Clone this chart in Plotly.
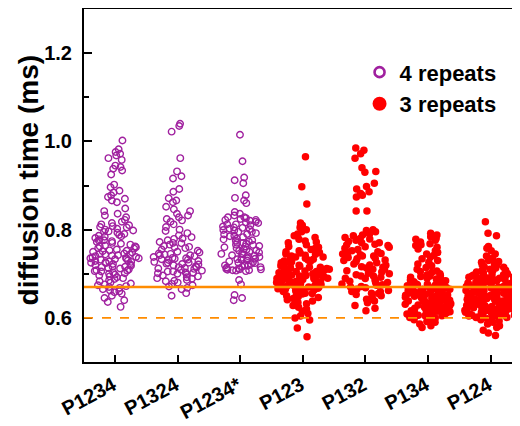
import plotly.graph_objects as go

categories = ["P1234", "P1324", "P1234*", "P123", "P132", "P134", "P124"]
four_repeat_cats = ["P1234", "P1324", "P1234*"]
three_repeat_cats = ["P123", "P132", "P134", "P124"]
y_title = "diffusion time (ms)"

p1234 = [1.002, 0.982, 0.976, 0.972, 0.968, 0.962, 0.958, 0.945, 0.942, 0.938, 0.934, 0.925,
         0.902, 0.896, 0.888, 0.884, 0.878, 0.874, 0.870, 0.866, 0.862, 0.848, 0.842, 0.836,
         0.832, 0.828, 0.822, 0.818, 0.815, 0.812, 0.808, 0.805, 0.802, 0.800, 0.798, 0.796,
         0.793, 0.790, 0.788, 0.786, 0.784, 0.781, 0.778, 0.776, 0.774, 0.772, 0.770, 0.768,
         0.766, 0.764, 0.762, 0.760, 0.758, 0.757, 0.755, 0.753, 0.751, 0.750, 0.748, 0.746,
         0.745, 0.744, 0.742, 0.741, 0.740, 0.738, 0.737, 0.736, 0.735, 0.734, 0.733, 0.732,
         0.730, 0.729, 0.728, 0.727, 0.725, 0.724, 0.722, 0.721, 0.720, 0.718, 0.716, 0.715,
         0.713, 0.712, 0.710, 0.708, 0.706, 0.705, 0.703, 0.701, 0.700, 0.698, 0.696, 0.694,
         0.692, 0.690, 0.688, 0.685, 0.683, 0.680, 0.678, 0.676, 0.674, 0.672, 0.670, 0.668,
         0.665, 0.662, 0.660, 0.658, 0.655, 0.650, 0.645, 0.640, 0.636, 0.625,
         0.775, 0.762, 0.752, 0.744, 0.735, 0.726, 0.716, 0.707, 0.785, 0.795, 0.806, 0.810]

p1324 = [1.040, 1.035, 1.022, 0.962, 0.932, 0.921, 0.916, 0.892, 0.886, 0.871, 0.866, 0.862,
         0.852, 0.846, 0.842, 0.836, 0.832, 0.828, 0.824, 0.821, 0.818, 0.812, 0.806, 0.800,
         0.797, 0.792, 0.787, 0.783, 0.779, 0.776, 0.772, 0.769, 0.766, 0.763, 0.760, 0.758,
         0.755, 0.752, 0.750, 0.748, 0.746, 0.744, 0.742, 0.740, 0.738, 0.736, 0.734, 0.733,
         0.731, 0.729, 0.727, 0.725, 0.723, 0.721, 0.719, 0.717, 0.715, 0.713, 0.711, 0.709,
         0.707, 0.705, 0.703, 0.701, 0.700, 0.698, 0.696, 0.694, 0.692, 0.689, 0.686, 0.683,
         0.680, 0.677, 0.674, 0.671, 0.668, 0.665, 0.656, 0.650, 0.745, 0.735, 0.725, 0.715,
         0.705, 0.770, 0.780, 0.722, 0.712, 0.702, 0.742, 0.732, 0.761, 0.690, 0.684]

p1234s = [1.015, 0.955, 0.918, 0.912, 0.905, 0.878, 0.872, 0.866, 0.860, 0.840, 0.836, 0.832,
          0.828, 0.826, 0.824, 0.822, 0.820, 0.818, 0.816, 0.812, 0.810, 0.807, 0.804, 0.801,
          0.798, 0.795, 0.792, 0.789, 0.786, 0.783, 0.780, 0.778, 0.776, 0.773, 0.770, 0.768,
          0.766, 0.763, 0.760, 0.758, 0.756, 0.753, 0.750, 0.748, 0.746, 0.744, 0.742, 0.740,
          0.738, 0.736, 0.734, 0.732, 0.730, 0.728, 0.726, 0.724, 0.722, 0.720, 0.718, 0.716,
          0.714, 0.712, 0.711, 0.710, 0.709, 0.708, 0.708, 0.707, 0.706, 0.686, 0.676, 0.652,
          0.645, 0.640, 0.815, 0.805, 0.795, 0.785, 0.775, 0.765, 0.755, 0.745, 0.735, 0.725,
          0.715, 0.822, 0.812, 0.802, 0.790, 0.770, 0.752, 0.733, 0.719, 0.710, 0.828, 0.799,
          0.762, 0.741]

p123 = [0.965, 0.897, 0.858, 0.815, 0.810, 0.805, 0.800, 0.795, 0.790, 0.786, 0.782, 0.778,
        0.774, 0.770, 0.766, 0.762, 0.758, 0.755, 0.752, 0.750, 0.747, 0.744, 0.742, 0.740,
        0.738, 0.735, 0.733, 0.731, 0.729, 0.727, 0.725, 0.723, 0.721, 0.719, 0.717, 0.715,
        0.713, 0.711, 0.710, 0.708, 0.706, 0.705, 0.703, 0.702, 0.700, 0.699, 0.697, 0.696,
        0.694, 0.693, 0.691, 0.690, 0.689, 0.687, 0.686, 0.684, 0.683, 0.681, 0.680, 0.679,
        0.677, 0.676, 0.674, 0.673, 0.671, 0.670, 0.669, 0.667, 0.666, 0.664, 0.663, 0.661,
        0.660, 0.658, 0.656, 0.654, 0.652, 0.650, 0.648, 0.646, 0.644, 0.641, 0.638, 0.635,
        0.632, 0.628, 0.624, 0.620, 0.615, 0.610, 0.604, 0.600, 0.595, 0.577, 0.557, 0.745,
        0.735, 0.725, 0.715, 0.705, 0.695, 0.685, 0.675, 0.665, 0.655, 0.728, 0.718, 0.708,
        0.698, 0.688, 0.678, 0.668, 0.738, 0.748, 0.760, 0.772, 0.702, 0.692, 0.682, 0.672,
        0.662, 0.712]

p132 = [0.985, 0.980, 0.972, 0.962, 0.940, 0.932, 0.930, 0.905, 0.898, 0.892, 0.886, 0.882,
        0.878, 0.874, 0.842, 0.842, 0.800, 0.798, 0.795, 0.790, 0.786, 0.782, 0.779, 0.776,
        0.773, 0.770, 0.767, 0.764, 0.761, 0.758, 0.755, 0.752, 0.749, 0.746, 0.743, 0.740,
        0.737, 0.734, 0.731, 0.728, 0.725, 0.722, 0.719, 0.716, 0.713, 0.710, 0.707, 0.704,
        0.701, 0.698, 0.695, 0.692, 0.689, 0.686, 0.683, 0.680, 0.677, 0.674, 0.671, 0.668,
        0.665, 0.662, 0.659, 0.656, 0.653, 0.650, 0.646, 0.642, 0.638, 0.634, 0.628, 0.622,
        0.616, 0.780, 0.770, 0.760, 0.750, 0.740, 0.730, 0.720, 0.710, 0.700, 0.690, 0.680,
        0.670, 0.660, 0.745, 0.735, 0.715, 0.695, 0.675, 0.655, 0.788, 0.765]

p134 = [0.792, 0.788, 0.784, 0.780, 0.776, 0.772, 0.768, 0.764, 0.760, 0.756, 0.752, 0.748,
        0.745, 0.742, 0.738, 0.734, 0.730, 0.726, 0.722, 0.718, 0.714, 0.710, 0.706, 0.703,
        0.700, 0.698, 0.696, 0.694, 0.692, 0.690, 0.688, 0.686, 0.684, 0.682, 0.680, 0.679,
        0.677, 0.676, 0.674, 0.673, 0.671, 0.670, 0.669, 0.667, 0.666, 0.665, 0.663, 0.662,
        0.661, 0.660, 0.658, 0.657, 0.656, 0.655, 0.654, 0.652, 0.651, 0.650, 0.649, 0.648,
        0.647, 0.646, 0.645, 0.644, 0.643, 0.642, 0.641, 0.640, 0.639, 0.638, 0.637, 0.636,
        0.635, 0.634, 0.633, 0.632, 0.631, 0.630, 0.629, 0.628, 0.627, 0.626, 0.625, 0.624,
        0.623, 0.622, 0.621, 0.620, 0.619, 0.618, 0.617, 0.616, 0.615, 0.614, 0.613, 0.612,
        0.611, 0.610, 0.609, 0.608, 0.607, 0.606, 0.605, 0.604, 0.603, 0.602, 0.601, 0.600,
        0.598, 0.596, 0.594, 0.592, 0.590, 0.586, 0.582, 0.578, 0.695, 0.685, 0.675, 0.665,
        0.655, 0.645, 0.635, 0.625, 0.615, 0.605, 0.672, 0.662, 0.652, 0.642, 0.632, 0.622,
        0.612, 0.687, 0.668, 0.648, 0.628, 0.705, 0.778, 0.766]

p124 = [0.818, 0.792, 0.786, 0.762, 0.758, 0.752, 0.745, 0.740, 0.735, 0.730, 0.728, 0.725,
        0.722, 0.720, 0.718, 0.715, 0.713, 0.710, 0.708, 0.706, 0.704, 0.702, 0.700, 0.699,
        0.698, 0.697, 0.696, 0.695, 0.694, 0.693, 0.692, 0.691, 0.690, 0.689, 0.688, 0.687,
        0.686, 0.685, 0.684, 0.683, 0.682, 0.681, 0.680, 0.679, 0.678, 0.677, 0.676, 0.675,
        0.674, 0.673, 0.672, 0.671, 0.670, 0.669, 0.668, 0.667, 0.666, 0.665, 0.664, 0.663,
        0.662, 0.661, 0.660, 0.659, 0.658, 0.657, 0.656, 0.655, 0.654, 0.653, 0.652, 0.651,
        0.650, 0.649, 0.648, 0.647, 0.646, 0.645, 0.644, 0.643, 0.642, 0.641, 0.640, 0.639,
        0.638, 0.637, 0.636, 0.635, 0.634, 0.633, 0.632, 0.631, 0.630, 0.629, 0.628, 0.627,
        0.626, 0.625, 0.624, 0.623, 0.622, 0.621, 0.620, 0.619, 0.618, 0.617, 0.616, 0.615,
        0.614, 0.613, 0.612, 0.611, 0.610, 0.609, 0.608, 0.607, 0.606, 0.605, 0.604, 0.603,
        0.602, 0.601, 0.600, 0.598, 0.596, 0.593, 0.590, 0.586, 0.582, 0.578, 0.572, 0.566,
        0.560, 0.696, 0.691, 0.686, 0.681, 0.676, 0.671, 0.666, 0.661, 0.656, 0.651, 0.646,
        0.641, 0.636, 0.631, 0.626, 0.621, 0.616, 0.611, 0.606, 0.601, 0.684, 0.674, 0.664,
        0.654, 0.644, 0.634, 0.624, 0.614, 0.604, 0.678, 0.668, 0.658, 0.648, 0.638, 0.628,
        0.618, 0.608, 0.662, 0.652, 0.642, 0.632, 0.622, 0.612, 0.726, 0.716, 0.707, 0.659,
        0.639, 0.619]

ref_solid = 0.67
ref_dashed = 0.6

four_values = [p1234, p1324, p1234s]
three_values = [p123, p132, p134, p124]

purple = "#A0209F"
red = "#FF0000"
orange = "#FF8C00"
font_fam = "Liberation Sans, Arial, sans-serif"

fig = go.Figure()

x4, y4 = [], []
for c, vals in zip(four_repeat_cats, four_values):
    x4 += [c] * len(vals)
    y4 += vals
x3, y3 = [], []
for c, vals in zip(three_repeat_cats, three_values):
    x3 += [c] * len(vals)
    y3 += vals

box_common = dict(boxpoints="all", jitter=1, pointpos=0, width=0.85,
                  fillcolor="rgba(0,0,0,0)", line=dict(width=0, color="rgba(0,0,0,0)"),
                  whiskerwidth=0, showlegend=False, hoveron="points")

fig.add_trace(go.Box(x=x4, y=y4, marker=dict(symbol="circle-open", size=6.5, color=purple,
                                               line=dict(width=1.4, color=purple)), **box_common))
fig.add_trace(go.Box(x=x3, y=y3, marker=dict(symbol="circle", size=7.5, color=red,
                                               line=dict(width=0)), **box_common))

# legend entries
fig.add_trace(go.Scatter(x=[None], y=[None], mode="markers", name="4 repeats", legendgroup="a",
                         marker=dict(symbol="circle-open", size=10, color=purple, line=dict(width=2.6))))
fig.add_trace(go.Scatter(x=[None], y=[None], mode="markers", name="3 repeats", legendgroup="b",
                         marker=dict(symbol="circle", size=14, color=red)))

fig.add_shape(type="line", xref="paper", x0=0, x1=1, yref="y", y0=ref_solid, y1=ref_solid,
              line=dict(color=orange, width=2.5))
fig.add_shape(type="line", xref="paper", x0=0, x1=1, yref="y", y0=ref_dashed, y1=ref_dashed,
              line=dict(color=orange, width=1.8, dash="dash"))

fig.add_annotation(text=y_title, xref="paper", yref="paper", x=-0.128, y=0.515,
                   xanchor="center", yanchor="middle", textangle=-90, showarrow=False,
                   font=dict(size=28, weight="bold", family=font_fam, color="black"))

# page body has an 8px margin, so the figure is sized/offset to land the axes where the reference has them
fig.update_layout(
    width=512, height=418,
    margin=dict(l=76, r=0, t=1, b=64, autoexpand=False),
    paper_bgcolor="white", plot_bgcolor="white",
    font=dict(family=font_fam, color="black"),
    showlegend=True,
    legend=dict(x=0.632, y=0.88, xanchor="left", yanchor="top", bgcolor="rgba(0,0,0,0)",
                font=dict(size=22, weight="bold", family=font_fam), tracegroupgap=0,
                traceorder="grouped", itemsizing="trace"),
    xaxis=dict(type="category", categoryorder="array", categoryarray=categories,
               range=[-0.495, 6.47], showline=True, linecolor="black", linewidth=2,
               mirror=True, ticks="inside", ticklen=7, tickwidth=1.5, tickcolor="black",
               tickangle=-28, tickfont=dict(size=20, weight="bold", family=font_fam),
               ticklabelstandoff=2, ticklabelshift=-2,
               showgrid=False, zeroline=False, automargin=False),
    yaxis=dict(range=[0.5, 1.3], tickvals=[0.6, 0.8, 1.0, 1.2], ticktext=["0.6", "0.8", "1.0", "1.2"],
               showline=True, linecolor="black", linewidth=2, mirror=False,
               ticks="inside", ticklen=8, tickwidth=1.5, tickcolor="black",
               minor=dict(tickvals=[0.7, 0.9, 1.1], ticks="inside", ticklen=5, tickwidth=1.5,
                          tickcolor="black", showgrid=False),
               tickfont=dict(size=20, weight="bold", family=font_fam), ticklabelstandoff=6,
               showgrid=False, zeroline=False, automargin=False),
)

fig.write_html("out.html")
